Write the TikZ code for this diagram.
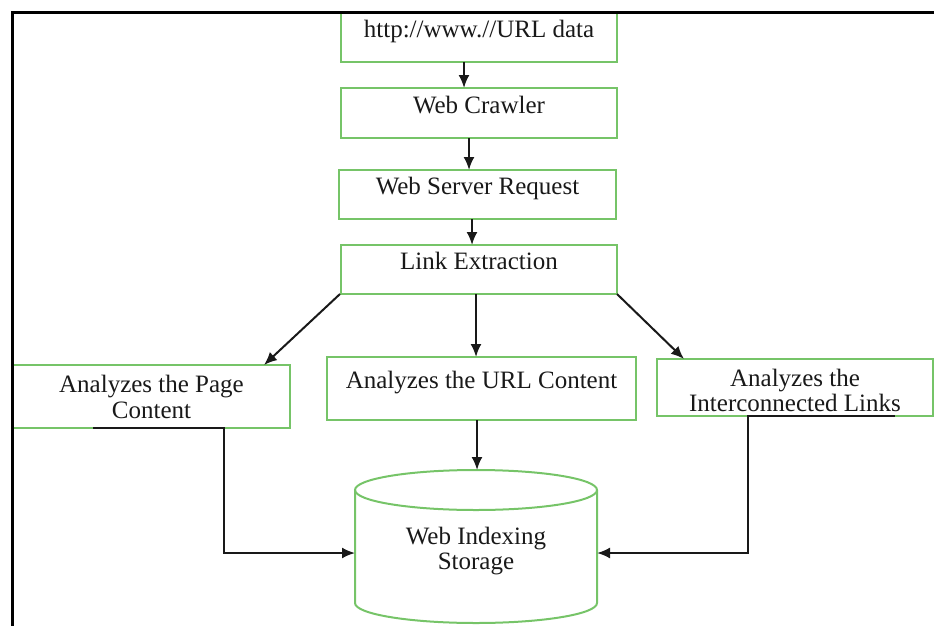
\documentclass[tikz,border=0pt]{standalone}
\usepackage{fontspec}
\setmainfont{Liberation Serif}
\usetikzlibrary{arrows.meta,calc}
\definecolor{boxgreen}{RGB}{118,196,104}
\definecolor{inkgray}{RGB}{25,25,25}
\begin{document}
\begin{tikzpicture}[x=1pt,y=-1pt,
  box/.style={draw=boxgreen, line width=2pt, align=center, inner sep=2pt, outer sep=0pt,
              text=inkgray, font=\fontsize{25}{26}\selectfont},
  oneline/.style={text height=17pt, text depth=17pt},
  arr/.style={draw=inkgray, line width=2pt, -{Latex[length=13pt,width=11pt]}},
  cyl/.style={draw=boxgreen, line width=2pt},
  frame/.style={draw=black, line width=3pt}]
\useasboundingbox (0,0) rectangle (934,626);

% processing chain
\node[box,oneline,minimum width=276pt,minimum height=49pt] (url) at (479,37.5) {http://www.//URL data};
\node[box,oneline,minimum width=276pt,minimum height=50pt] (crawler) at (479,113) {Web Crawler};
\node[box,oneline,minimum width=277pt,minimum height=49pt] (server) at (477.5,194.5) {Web Server Request};
\node[box,oneline,minimum width=276pt,minimum height=49pt] (link) at (479,269.5) {Link Extraction};

% analysis boxes
\node[box,minimum width=277pt,minimum height=63pt] (page) at (151.5,396.5) {Analyzes the Page\\Content};
\node[box,oneline,minimum width=309pt,minimum height=63pt] (urlc) at (481.5,388.5) {Analyzes the URL Content};
\node[box,minimum width=276pt,minimum height=57pt,font=\fontsize{25}{25}\selectfont,
      text height=47pt, text depth=0pt] (inter) at (795,387.5) {Analyzes the\\Interconnected Links};

% storage cylinder
\node[align=center, inner sep=0pt, outer sep=0pt, minimum width=242pt, minimum height=153pt,
      text=inkgray, font=\fontsize{25}{25}\selectfont, text height=50pt, text depth=5pt]
      (store) at (476,546.5) {Web Indexing\\Storage};
\draw[cyl] ($(store.north)+(0,20)$) ellipse [x radius=121pt, y radius=20pt];
\draw[cyl] ($(store.north west)+(0,20)$) -- ($(store.south west)+(0,-20)$)
  .. controls +(0,11) and +(-66.8,0) .. (store.south)
  .. controls +(66.8,0) and +(0,11) .. ($(store.south east)+(0,-20)$)
  -- ($(store.north east)+(0,20)$);

% connectors
\draw[arr] ([xshift=-15pt]url.south) -- ([xshift=-15pt]crawler.north);
\draw[arr] ([xshift=-10pt]crawler.south) -- ([xshift=-10pt]crawler.south |- server.north);
\draw[arr] ([xshift=-5.5pt]server.south) -- ([xshift=-5.5pt]server.south |- link.north);
\draw[arr] ([xshift=-1pt]link.south west) -- ([xshift=-26pt]page.north east);
\draw[arr] ([xshift=-3pt]link.south) -- ([xshift=-3pt]link.south |- urlc.north);
\draw[arr] (link.south east) -- ([xshift=27pt]inter.north west);
\draw[arr] ([xshift=-4.5pt]urlc.south) -- ([xshift=-4.5pt]urlc.south |- store.north);
\draw[arr] ([xshift=80pt]page.south west) -- ([xshift=211pt]page.south west) |- ([yshift=-6.5pt]store.west);
\draw[arr] ([xshift=-38pt]inter.south east) -- ([xshift=-185pt]inter.south east) |- ([yshift=-6.5pt]store.east);

% outer frame
\draw[frame] (12,700) -- (12,13) -- (1000,13);
\end{tikzpicture}
\end{document}
